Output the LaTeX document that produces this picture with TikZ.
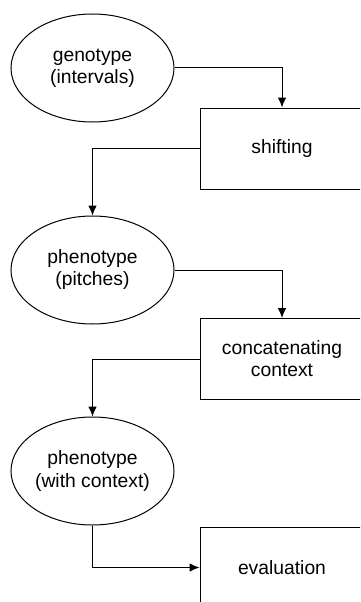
\documentclass[tikz,border=0pt]{standalone}
\usepackage{fontspec}
\setmainfont{Liberation Sans}
\usetikzlibrary{shapes.geometric,arrows.meta}
\begin{document}
\begin{tikzpicture}[x=1pt,y=-1pt,
  every node/.style={font=\fontsize{19.3}{22}\selectfont, align=center, inner sep=0pt},
  oval/.style={ellipse, draw, line width=1pt, minimum width=163pt, minimum height=108pt},
  proc/.style={rectangle, draw, line width=1pt, minimum width=164pt, minimum height=81pt},
  conn/.style={draw, line width=1pt, -{Latex[length=10pt,width=8.5pt]}}]
\clip (0,0) rectangle (360,602);
\useasboundingbox (0,0) rectangle (360,602);
\node[oval] (e1) at (92.5,68) {genotype\\(intervals)};
\node[proc] (b1) at (282,148.5) {shifting};
\node[oval] (e2) at (92.5,270) {phenotype\\(pitches)};
\node[proc] (b2) at (282,359) {concatenating\\context};
\node[oval] (e3) at (92.5,471) {phenotype\\(with context)};
\node[proc] (b3) at (282,567.5) {evaluation};
\path[conn] (e1.east) -| (b1.north);
\path[conn] (b1.west) -| (e2.north);
\path[conn] (e2.east) -| (b2.north);
\path[conn] (b2.west) -| (e3.north);
\path[conn] (e3.south) |- (b3.west);
\end{tikzpicture}
\end{document}
